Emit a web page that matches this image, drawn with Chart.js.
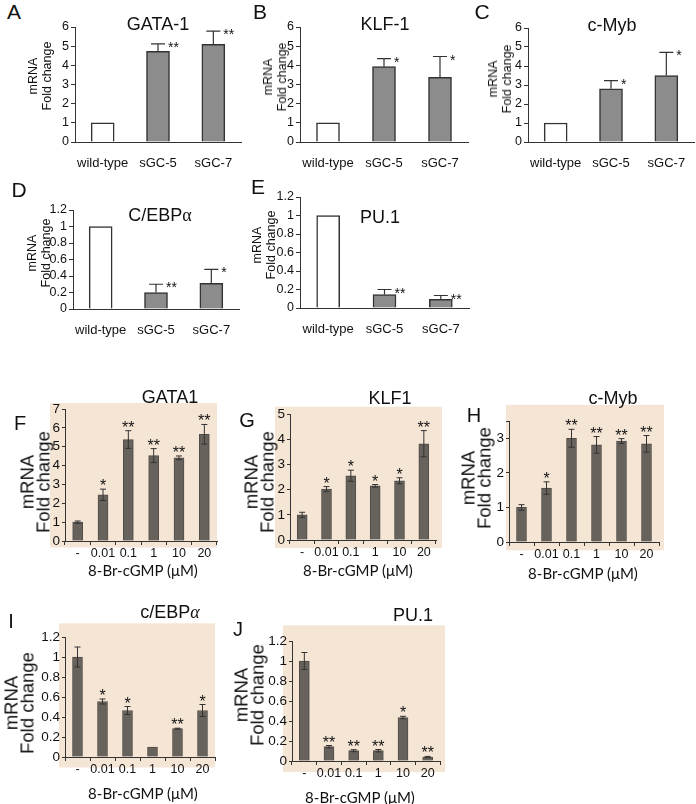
<!DOCTYPE html>
<html><head><meta charset="utf-8">
<script src="https://cdn.jsdelivr.net/npm/chart.js@4"></script>
<style>
body{margin:0;width:696px;height:804px;position:relative;background:#fff;overflow:hidden;font-family:'Liberation Sans',Arial,sans-serif;color:#111}
canvas{position:absolute}
.t{position:absolute;white-space:nowrap;line-height:1;transform:translate(-50%,-50%)}
.r{position:absolute;white-space:nowrap;text-align:center;transform:translate(-50%,-50%) rotate(-90deg)}
</style></head><body>
<script>
// ---------- DATA ----------
const sgcCats = ['wild-type', 'sGC-5', 'sGC-7'];
const doseCats = ['-', '0.01', '0.1', '1', '10', '20'];

const gata1Vals = [1, 4.73, 5.1];   const gata1Err = [0, 0.39, 0.68];  const gata1Stars = ['', '**', '**'];
const klf1Vals  = [1, 3.93, 3.37];  const klf1Err  = [0, 0.42, 1.09];  const klf1Stars  = ['', '*', '*'];
const cmybVals  = [1, 2.8, 3.5];    const cmybErr  = [0, 0.43, 1.22];  const cmybStars  = ['', '*', '*'];
const cebpVals  = [1, 0.2, 0.31];   const cebpErr  = [0, 0.1, 0.17];   const cebpStars  = ['', '**', '*'];
const pu1Vals   = [1, 0.145, 0.095];const pu1Err   = [0, 0.055, 0.04]; const pu1Stars   = ['', '**', '**'];

const gata1DoseVals = [1.0, 2.45, 5.38, 4.53, 4.41, 5.66];
const gata1DoseErr  = [0.06, 0.3, 0.47, 0.37, 0.1, 0.52];
const gata1DoseStars = ['', '*', '**', '**', '**', '**'];
const klf1DoseVals = [1.0, 2.02, 2.55, 2.15, 2.35, 3.82];
const klf1DoseErr  = [0.1, 0.1, 0.22, 0.05, 0.12, 0.52];
const klf1DoseStars = ['', '*', '*', '*', '*', '**'];
const cmybDoseVals = [1.0, 1.56, 3.0, 2.81, 2.92, 2.84];
const cmybDoseErr  = [0.08, 0.18, 0.26, 0.24, 0.07, 0.24];
const cmybDoseStars = ['', '*', '**', '**', '**', '**'];
const cebpDoseVals = [1.0, 0.555, 0.465, 0.1, 0.283, 0.465];
const cebpDoseErr  = [0.1, 0.025, 0.04, 0, 0.005, 0.06];
const cebpDoseStars = ['', '*', '*', '', '**', '*'];
const pu1DoseVals = [1.0, 0.143, 0.103, 0.103, 0.435, 0.04];
const pu1DoseErr  = [0.085, 0.012, 0.01, 0.012, 0.012, 0.006];
const pu1DoseStars = ['', '**', '**', '**', '*', '**'];

const yLabelLines = ['mRNA', 'Fold change'];
const doseAxisTitle = '8-Br-cGMP (\u03BCM)';

// ---------- PLUGINS ----------
const errPlugin = {
  id: 'errbars',
  afterDatasetsDraw(chart, args, o) {
    const meta = chart.getDatasetMeta(0);
    const ys = chart.scales.y;
    const vals = chart.data.datasets[0].data;
    const ctx = chart.ctx;
    ctx.save();
    meta.data.forEach((el, i) => {
      const v = vals[i], e = o.err[i] || 0, x = el.x;
      const yt = ys.getPixelForValue(v + e);
      if (e > 0) {
        const yb = o.both ? ys.getPixelForValue(v - e) : ys.getPixelForValue(v);
        ctx.strokeStyle = o.color; ctx.lineWidth = o.lw;
        ctx.beginPath();
        ctx.moveTo(x, yb); ctx.lineTo(x, yt);
        ctx.moveTo(x - o.cap / 2, yt); ctx.lineTo(x + o.cap / 2, yt);
        if (o.both) { ctx.moveTo(x - o.cap / 2, yb); ctx.lineTo(x + o.cap / 2, yb); }
        ctx.stroke();
      }
      const s = o.stars[i];
      if (s) {
        ctx.fillStyle = '#111'; ctx.font = o.starFont; ctx.textBaseline = 'alphabetic';
        if (o.side) { ctx.textAlign = 'left'; ctx.fillText(s, x + o.cap / 2 + 3, yt + 8); }
        else { ctx.textAlign = 'center'; ctx.fillText(s, x, yt + 2); }
      }
    });
    ctx.restore();
  }
};
const bgPlugin = {
  id: 'panelbg',
  beforeDraw(chart, args, o) {
    if (!o.on) return;
    const a = chart.chartArea, ctx = chart.ctx;
    ctx.save(); ctx.fillStyle = o.color;
    ctx.fillRect(a.left - o.l, a.top - o.t, a.width + o.l + o.r, a.height + o.t + o.b);
    ctx.restore();
  }
};

// ---------- LAYOUT ----------
const FONT = "'Liberation Sans', Arial, sans-serif";
const panels = [
  {kind:'top', cats:sgcCats, vals:gata1Vals, err:gata1Err, stars:gata1Stars, yMax:6, step:1,
   ax:75, cy:27, cw:166, ch:115, letter:'A', lp:[14,11], title:'GATA-1', tp:[158,24], yl:[40,76]},
  {kind:'top', cats:sgcCats, vals:klf1Vals, err:klf1Err, stars:klf1Stars, yMax:6, step:1,
   ax:300, cy:27, cw:168, ch:115, letter:'B', lp:[260,11], title:'KLF-1', tp:[385,24], yl:[275,77]},
  {kind:'top', cats:sgcCats, vals:cmybVals, err:cmybErr, stars:cmybStars, yMax:6, step:1,
   ax:528, cy:27.7, cw:166, ch:114, letter:'C', lp:[482,11], title:'c-Myb', tp:[612,25], yl:[500,79]},
  {kind:'top', cats:sgcCats, vals:cebpVals, err:cebpErr, stars:cebpStars, yMax:1.2, step:0.2,
   ax:73, cy:210, cw:166, ch:99, letter:'D', lp:[19,189], title:'C/EBP<span style="font-family:\'Liberation Serif\',serif">\u03B1</span>', tp:[160,215], yl:[39,253]},
  {kind:'top', cats:sgcCats, vals:pu1Vals, err:pu1Err, stars:pu1Stars, yMax:1.2, step:0.2,
   ax:300, cy:196.7, cw:169, ch:111, letter:'E', lp:[258,186], title:'PU.1', tp:[380,217], yl:[264,245]},

  {kind:'dose', cats:doseCats, vals:gata1DoseVals, err:gata1DoseErr, stars:gata1DoseStars, yMax:7, step:1,
   ax:65, cy:409.3, cw:152.4, ch:132.4, bg:{l:15,t:6,r:0,b:6.5},
   letter:'F', lp:[20,423], title:'GATA1', tp:[170,397], yl:[35,482], xt:[143,570]},
  {kind:'dose', cats:doseCats, vals:klf1DoseVals, err:klf1DoseErr, stars:klf1DoseStars, yMax:5, step:1,
   ax:290, cy:414.3, cw:146, ch:125.7, bg:{l:15,t:7.3,r:6,b:8},
   letter:'G', lp:[247,420], title:'KLF1', tp:[390,398], yl:[259,482], xt:[358,570]},
  {kind:'dose', cats:doseCats, vals:cmybDoseVals, err:cmybDoseErr, stars:cmybDoseStars, yMax:3.5, step:1,
   ax:509, cy:421.2, cw:150, ch:120.5, bg:{l:3,t:16.2,r:5,b:8.3},
   letter:'H', lp:[474,415], title:'c-Myb', tp:[613,398], yl:[476,478], xt:[583,573]},
  {kind:'dose', cats:doseCats, vals:cebpDoseVals, err:cebpDoseErr, stars:cebpDoseStars, yMax:1.2, step:0.2,
   ax:65, cy:636.7, cw:150, ch:120, bg:{l:6,t:13.7,r:0,b:10.5},
   letter:'I', lp:[11,621], title:'c/EBP<i style="font-family:\'Liberation Serif\',serif">\u03B1</i>', tp:[170,612], yl:[19,703], xt:[143,793]},
  {kind:'dose', cats:doseCats, vals:pu1DoseVals, err:pu1DoseErr, stars:pu1DoseStars, yMax:1.2, step:0.2,
   ax:292, cy:640.7, cw:148, ch:120.3, bg:{l:9,t:15.7,r:5,b:11},
   letter:'J', lp:[238,629], title:'PU.1', tp:[413,615], yl:[249,695], xt:[360,797]}
];

function addText(html, x, y, size, cls, extra) {
  const d = document.createElement('div');
  d.className = cls || 't';
  d.innerHTML = html;
  d.style.left = x + 'px'; d.style.top = y + 'px'; d.style.fontSize = size + 'px';
  if (extra) Object.assign(d.style, extra);
  document.body.appendChild(d);
}

function build(p) {
  const top = p.kind === 'top';
  const yW = top ? 28 : 30, padTop = top ? 10 : 18, padR = top ? 4 : 8, xH = top ? 30 : 26;
  const W = Math.round(yW + p.cw + padR), H = Math.round(padTop + p.ch + xH);
  const c = document.createElement('canvas');
  c.width = W; c.height = H;
  c.style.width = W + 'px'; c.style.height = H + 'px';
  c.style.left = (p.ax - yW) + 'px'; c.style.top = (p.cy - padTop) + 'px';
  document.body.appendChild(c);
  new Chart(c, {
    type: 'bar',
    data: { labels: p.cats, datasets: [{
      data: p.vals,
      backgroundColor: top ? p.vals.map((v, i) => i === 0 ? '#ffffff' : '#8c8c8c') : '#67625c',
      borderColor: top ? '#333333' : '#524d48',
      borderWidth: top ? 1.5 : 1,
      barThickness: top ? 23 : 10
    }]},
    options: {
      responsive: false, animation: false, devicePixelRatio: 1,
      layout: { padding: { top: padTop, right: padR, left: 0, bottom: 0 } },
      plugins: {
        legend: { display: false }, tooltip: { enabled: false },
        errbars: { err: p.err, stars: p.stars, both: !top, side: top, cap: top ? 14 : 6,
                   color: '#333', lw: top ? 1.2 : 1, starFont: (top ? '14px ' : '16px ') + FONT },
        panelbg: top ? { on: false } : Object.assign({ on: true, color: '#f5e5d5' }, p.bg)
      },
      scales: {
        x: {
          afterFit(s) { s.height = xH; },
          grid: top ? { display: false } : { display: true, drawOnChartArea: false, drawTicks: true, tickLength: 4, color: '#333' },
          border: { display: true, color: '#333', width: 1 },
          ticks: { color: '#111', padding: top ? 6 : 1, maxRotation: 0, autoSkip: false,
                   font: { family: FONT, size: top ? 13 : 12.5 } }
        },
        y: {
          min: 0, max: p.yMax,
          afterFit(s) { s.width = yW; },
          grid: { drawOnChartArea: false, drawTicks: true, tickLength: top ? 4 : 3, color: '#333' },
          border: { display: true, color: '#333', width: 1 },
          ticks: { stepSize: p.step, color: '#111', padding: 2, autoSkip: false,
                   font: { family: FONT, size: top ? 12.5 : 13.5 },
                   callback(v) { return Math.abs(v - p.yMax) < 1e-9 && p.yMax === 3.5 ? '' : String(Math.round(v * 10) / 10); } }
        }
      }
    },
    plugins: [errPlugin, bgPlugin]
  });

  // texts
  addText(p.letter, p.lp[0], p.lp[1], top ? 21 : 20);
  addText(p.title, p.tp[0], p.tp[1], 18);
  addText(yLabelLines.join('<br>'), p.yl[0], p.yl[1], top ? 12.5 : 18.5, 'r',
          { lineHeight: top ? '14px' : '15.5px' });
  if (!top) addText(doseAxisTitle, p.xt[0], p.xt[1], 15, 't', { fontFamily: "Lato, 'Open Sans', sans-serif" });
}
panels.forEach(build);
</script>
</body></html>
